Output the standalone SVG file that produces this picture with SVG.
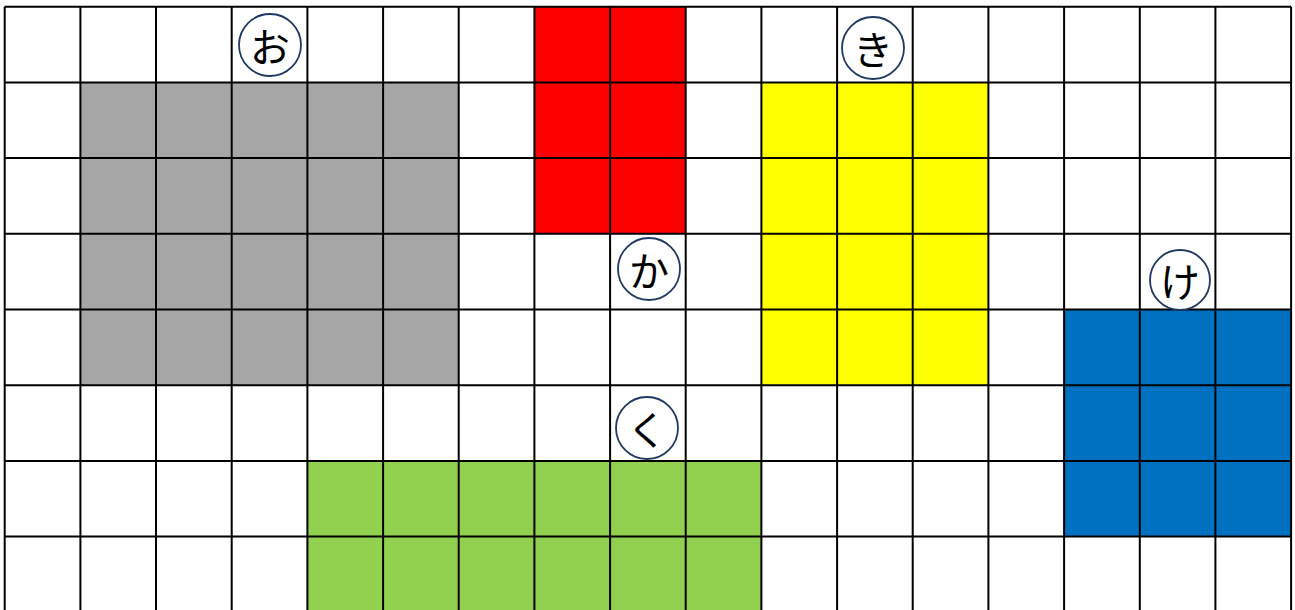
<svg xmlns="http://www.w3.org/2000/svg" width="1295" height="610" viewBox="0 0 1295 610">
<style>
.grid{stroke:#000;stroke-width:2;fill:none}
.lbl circle{fill:#fff;stroke:#1f3864;stroke-width:1.8}
.lbl text{font-family:"Noto Sans CJK JP","Noto Sans",sans-serif;font-size:40px;fill:#000;text-anchor:middle;dominant-baseline:central}
</style>
<rect width="1295" height="610" fill="#fff"/>
<g id="fills">
<rect id="gray" x="80.4" y="82.4" width="378.3" height="302.8" fill="#a6a6a6"/>
<rect id="red" x="534.4" y="6.7" width="151.3" height="227.1" fill="#ff0000"/>
<rect id="yellow" x="761.4" y="82.4" width="227" height="302.8" fill="#ffff00"/>
<rect id="blue" x="1064.1" y="309.5" width="227" height="227.1" fill="#0070c0"/>
<rect id="green" x="307.4" y="460.9" width="454" height="151.4" fill="#92d050"/>
</g>
<g id="gridlines" class="grid">
<path d="M4.7 6.7V612.3M80.4 6.7V612.3M156 6.7V612.3M231.7 6.7V612.3M307.4 6.7V612.3M383.1 6.7V612.3M458.7 6.7V612.3M534.4 6.7V612.3M610.1 6.7V612.3M685.7 6.7V612.3M761.4 6.7V612.3M837.1 6.7V612.3M912.7 6.7V612.3M988.4 6.7V612.3M1064.1 6.7V612.3M1139.8 6.7V612.3M1215.4 6.7V612.3M1291.1 6.7V612.3"/>
<path d="M4.7 6.7H1291.1M4.7 82.4H1291.1M4.7 158.1H1291.1M4.7 233.8H1291.1M4.7 309.5H1291.1M4.7 385.2H1291.1M4.7 460.9H1291.1M4.7 536.6H1291.1M4.7 612.3H1291.1"/>
</g>
<g id="label-o" class="lbl"><circle cx="270" cy="45" r="31"/><text x="270" y="45">お</text></g>
<g id="label-ka" class="lbl"><circle cx="649" cy="269" r="31"/><text x="649" y="269">か</text></g>
<g id="label-ki" class="lbl"><circle cx="873" cy="48" r="31"/><text x="873" y="48">き</text></g>
<g id="label-ku" class="lbl"><circle cx="647" cy="428" r="31"/><text x="647" y="428">く</text></g>
<g id="label-ke" class="lbl"><circle cx="1180" cy="280" r="30"/><text x="1180" y="280">け</text></g>
</svg>
